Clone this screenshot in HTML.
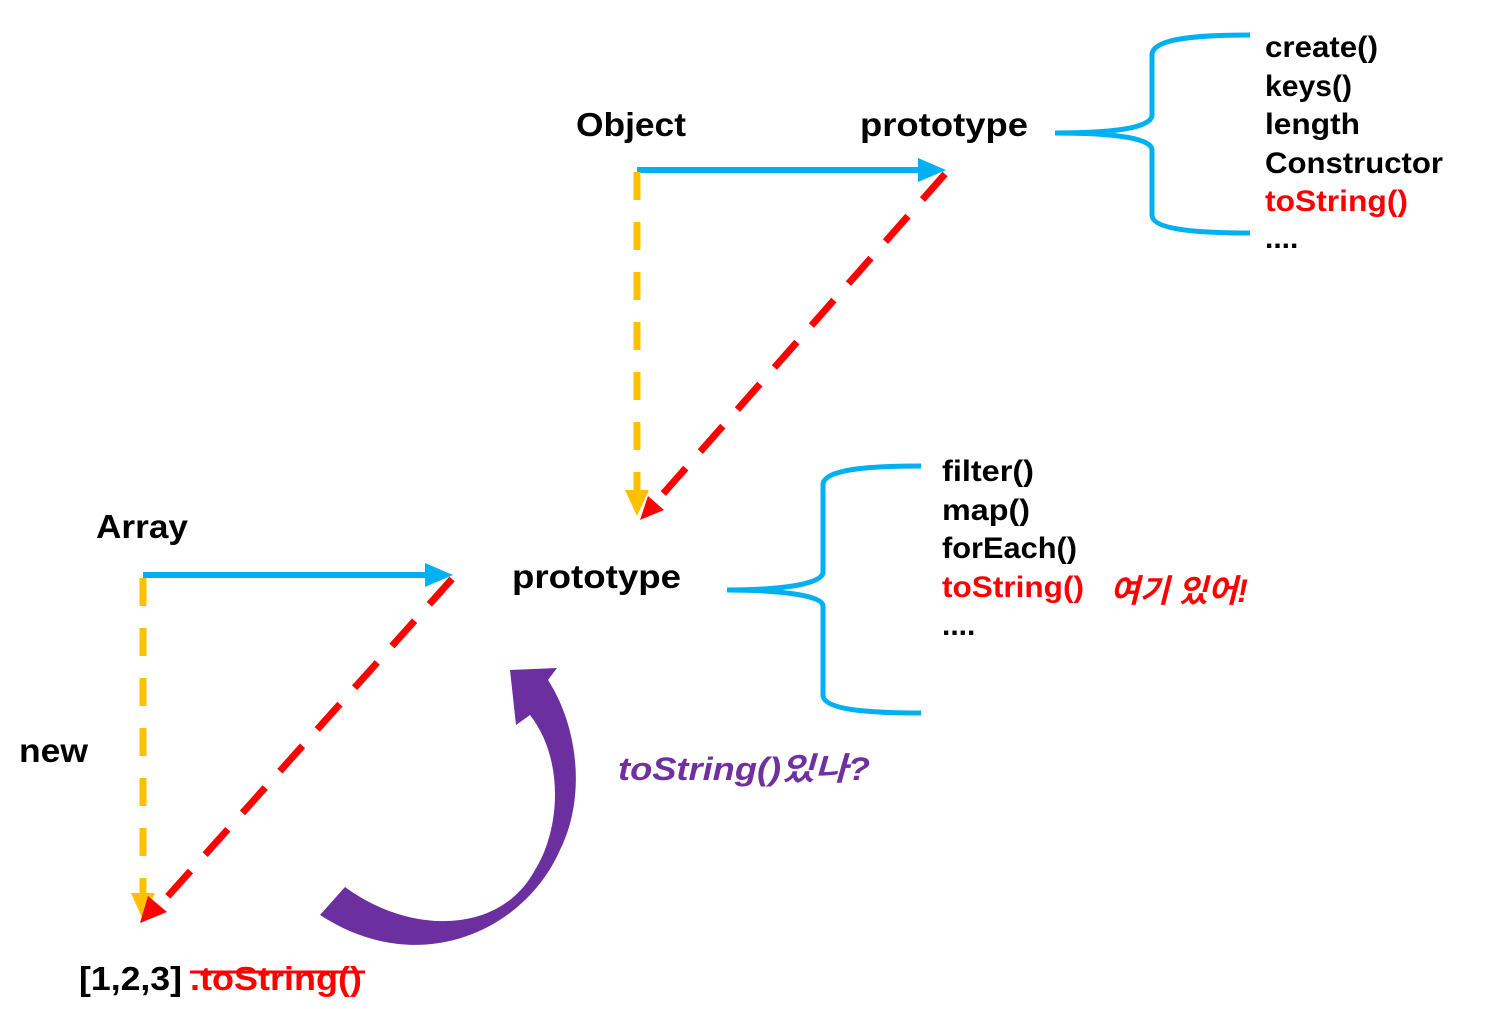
<!DOCTYPE html>
<html><head><meta charset="utf-8"><style>
html,body{margin:0;padding:0;background:#fff;}
svg{display:block;}
text{font-family:"Liberation Sans","Noto Sans CJK KR",sans-serif;font-weight:bold;}
</style></head><body>
<svg width="1498" height="1009" viewBox="0 0 1498 1009" xmlns="http://www.w3.org/2000/svg">
<line x1="637" y1="170" x2="920" y2="170" stroke="#00B0F0" stroke-width="6"/>
<polygon points="918,158 946,170 918,182" fill="#00B0F0"/>
<line x1="637" y1="172" x2="637" y2="492" stroke="#FFC000" stroke-width="7" stroke-dasharray="28,22"/>
<polygon points="625,490 649,490 637,516" fill="#FFC000"/>
<line x1="945" y1="174" x2="655" y2="503" stroke="#FF0000" stroke-width="7" stroke-dasharray="34,22"/>
<polygon points="640,520 648,496 664,510" fill="#FF0000"/>
<line x1="143" y1="575" x2="427" y2="575" stroke="#00B0F0" stroke-width="6"/>
<polygon points="425,563 453,575 425,587" fill="#00B0F0"/>
<line x1="143" y1="578" x2="143" y2="895" stroke="#FFC000" stroke-width="7" stroke-dasharray="28,22"/>
<polygon points="131,893 155,893 143,920" fill="#FFC000"/>
<line x1="452" y1="579" x2="160" y2="905" stroke="#FF0000" stroke-width="7" stroke-dasharray="34,22"/>
<polygon points="140,923 148,896 167,912" fill="#FF0000"/>
<path d="M1250,35 C1200,35 1152,38 1152,55 L1152,115 C1152,130 1100,133 1055,133 C1100,133 1152,136 1152,150 L1152,215 C1152,230 1200,233 1250,233" fill="none" stroke="#00B0F0" stroke-width="5"/>
<path d="M921,466 C870,466 823,469 823,485 L823,572 C823,586 770,590 727,590 C770,590 823,594 823,606 L823,695 C823,710 870,713 921,713" fill="none" stroke="#00B0F0" stroke-width="5"/>
<path d="M320,915 L345,887 C410,935 500,935 535,870 C560,830 565,760 530,715 L516,725 L510,670 L557,668 L548,680 C580,730 585,800 560,850 C525,930 420,980 320,915 Z" fill="#6B2FA0"/>
<g font-size="33" fill="#000" lengthAdjust="spacingAndGlyphs">
<text x="576" y="136" textLength="110" lengthAdjust="spacingAndGlyphs">Object</text>
<text x="860" y="136" textLength="168" lengthAdjust="spacingAndGlyphs">prototype</text>
<text x="96" y="538" textLength="92" lengthAdjust="spacingAndGlyphs">Array</text>
<text x="512" y="588" textLength="169" lengthAdjust="spacingAndGlyphs">prototype</text>
<text x="19" y="762" textLength="69" lengthAdjust="spacingAndGlyphs">new</text>
<text x="79" y="990" textLength="103" lengthAdjust="spacingAndGlyphs">[1,2,3]</text>
</g>
<text x="190" y="990" font-size="33" fill="#FF0000" textLength="172" lengthAdjust="spacingAndGlyphs">.toString()</text>
<line x1="190" y1="972" x2="365" y2="972" stroke="#FF0000" stroke-width="3"/>
<g font-size="30" fill="#000">
<text x="1265" y="57" textLength="113" lengthAdjust="spacingAndGlyphs">create()</text>
<text x="1265" y="96" textLength="87" lengthAdjust="spacingAndGlyphs">keys()</text>
<text x="1265" y="134" textLength="95" lengthAdjust="spacingAndGlyphs">length</text>
<text x="1265" y="173" textLength="178" lengthAdjust="spacingAndGlyphs">Constructor</text>
<text x="1265" y="211" fill="#FF0000" textLength="143" lengthAdjust="spacingAndGlyphs">toString()</text>
<text x="1265" y="248">....</text>
<text x="942" y="481" textLength="92" lengthAdjust="spacingAndGlyphs">filter()</text>
<text x="942" y="520" textLength="88" lengthAdjust="spacingAndGlyphs">map()</text>
<text x="942" y="558" textLength="135" lengthAdjust="spacingAndGlyphs">forEach()</text>
<text x="942" y="597" fill="#FF0000" textLength="142" lengthAdjust="spacingAndGlyphs">toString()</text>
<text x="942" y="635">....</text>
</g>
<text x="1110" y="602" font-size="32" fill="#FF0000" font-style="italic" textLength="138" lengthAdjust="spacingAndGlyphs">여기 있어!</text>
<text x="618" y="780" font-size="32" fill="#7030A0" font-style="italic" textLength="252" lengthAdjust="spacingAndGlyphs">toString()있나?</text>
</svg>
</body></html>
